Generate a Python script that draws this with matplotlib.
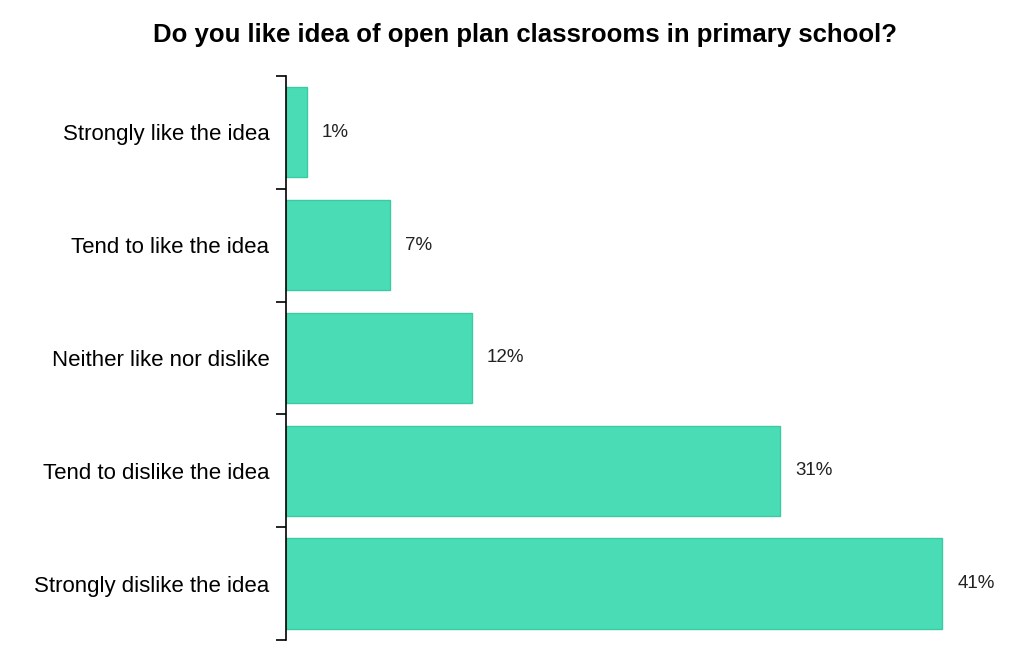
import numpy as np
import matplotlib.pyplot as plt

plt.rcParams['font.family'] = ['Liberation Sans', 'DejaVu Sans']

categories = ["Strongly like the idea", "Tend to like the idea", "Neither like nor dislike",
              "Tend to dislike the idea", "Strongly dislike the idea"]
values = [1.3, 6.5, 11.6, 30.9, 41.0]
value_labels = ["1%", "7%", "12%", "31%", "41%"]

fig = plt.figure(figsize=(10.24, 6.51), dpi=100)
ax = fig.add_axes([0.2793, 0.0169, 0.70, 0.8664])

y = np.arange(len(categories))
ax.barh(y, values, height=0.8, color='#4ADDB5', edgecolor='#3DC9A2', linewidth=1)

for yi, v, lab in zip(y, values, value_labels):
    ax.text(v + 0.95, yi, lab, va='center', ha='left', fontsize=13.5, color='#222222')

ax.set_ylim(len(categories) - 0.5, -0.5)
ax.set_xlim(0, 44.8)

# tick marks at category boundaries, labels at centres
ax.set_yticks(np.arange(-0.5, len(categories)), labels=[])
ax.set_yticks(y, labels=categories, minor=True)
ax.tick_params(axis='y', which='major', length=7, width=1.2, direction='out')
ax.tick_params(axis='y', which='minor', length=0, pad=12, labelsize=16)
ax.set_xticks([])

for s in ['top', 'right', 'bottom']:
    ax.spines[s].set_visible(False)
ax.spines['left'].set_linewidth(1.2)

fig.suptitle("Do you like idea of open plan classrooms in primary school?",
             x=0.513, y=0.965, fontsize=18.5, fontweight='bold')

fig.savefig('out.png', dpi=100)
